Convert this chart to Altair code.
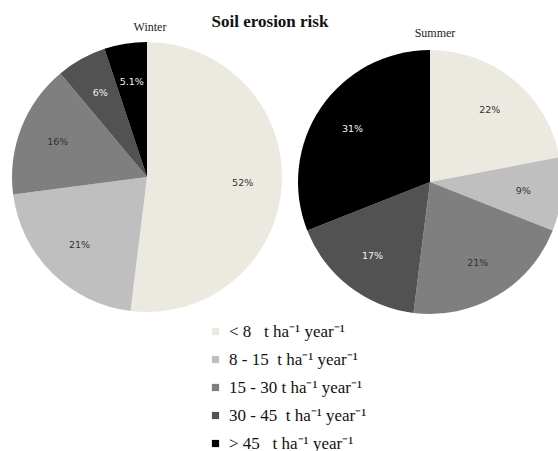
import altair as alt
import pandas as pd

# Erosion classes (t ha-1 year-1) and their share of the area per season
classes = [
    "<\u00a08\u00a0\u00a0 t ha\u207b\u00b9 year\u207b\u00b9",
    "8 - 15\u00a0\u00a0t ha\u207b\u00b9 year\u207b\u00b9",
    "15 - 30 t ha\u207b\u00b9 year\u207b\u00b9",
    "30 - 45\u00a0 t ha\u207b\u00b9 year\u207b\u00b9",
    ">\u00a045\u00a0\u00a0 t ha\u207b\u00b9 year\u207b\u00b9",
]
winter_pct = [52, 21, 16, 6, 5.1]
summer_pct = [22, 9, 21, 17, 31]
shades = ["#ebe9e0", "#bfbfbf", "#7f7f7f", "#525252", "#000000"]
dark_classes = classes[3:]

title_text = ["Soil erosion risk"]
seasons = ["Winter", "Summer"]

rows = []
for season, values in zip(seasons, [winter_pct, summer_pct]):
    for i, (c, v) in enumerate(zip(classes, values)):
        rows.append({"season": season, "cls": c, "pct": v, "order": i,
                     "label": f"{v:g}%"})
df = pd.DataFrame(rows)

color = alt.Color(
    "cls:N",
    scale=alt.Scale(domain=classes, range=shades),
    sort=classes,
    legend=alt.Legend(
        title=None, orient="none", legendX=207, legendY=323,
        symbolType="square", symbolSize=52, symbolStrokeWidth=0,
        labelFont="Liberation Serif", labelFontSize=17, labelColor="#111",
        labelOffset=5, rowPadding=10, padding=0, labelLimit=300,
    ),
)

base = alt.Chart(df)


def pie(season, cx, cy, r):
    sub = base.transform_filter(alt.datum.season == season)
    enc = dict(
        theta=alt.Theta("pct:Q", stack=True),
        order=alt.Order("order:Q"),
        x=alt.value(cx),
        y=alt.value(cy),
    )
    arcs = sub.mark_arc(outerRadius=r, stroke=None).encode(color=color, **enc)
    labels = sub.mark_text(
        radius=r * 0.71, font="DejaVu Sans", fontSize=9.5
    ).encode(
        text="label:N",
        fill=alt.condition(
            alt.FieldOneOfPredicate(field="cls", oneOf=dark_classes),
            alt.value("#f2f2f2"),
            alt.value("#333333"),
        ),
        **enc,
    )
    return arcs, labels


w_arcs, w_text = pie("Winter", 147, 177, 135)
s_arcs, s_text = pie("Summer", 430, 182, 132)

title = alt.Chart(pd.DataFrame({"t": title_text})).mark_text(
    font="Liberation Serif", fontSize=17, fontWeight="bold", color="#111",
    baseline="alphabetic",
).encode(text="t:N", x=alt.value(270), y=alt.value(27))

season_df = pd.DataFrame({"season": seasons, "px": [150, 435], "py": [31, 37]})
season_labels = alt.Chart(season_df).mark_text(
    font="Liberation Serif", fontSize=12, color="#222", baseline="alphabetic",
).encode(text="season:N", x=alt.X("px:Q", scale=None), y=alt.Y("py:Q", scale=None))

chart = (
    alt.layer(w_arcs, w_text, s_arcs, s_text, title, season_labels)
    .resolve_scale(theta="independent")
    .properties(width=558, height=451, padding=0,
                autosize=alt.AutoSizeParams(type="none"), background="white")
    .configure_view(stroke=None)
)

chart.save("out.html", embed_options={"renderer": "svg", "actions": False})
